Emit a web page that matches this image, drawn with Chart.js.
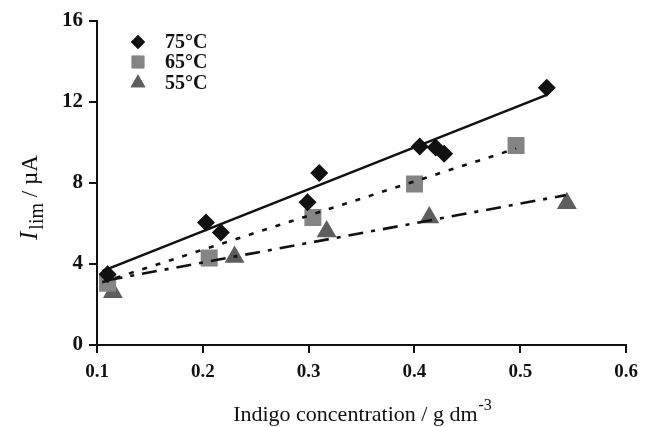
<!DOCTYPE html>
<html>
<head>
<meta charset="utf-8">
<script src="https://cdn.jsdelivr.net/npm/chart.js@4/dist/chart.umd.min.js"></script>
<style>
  html, body { margin: 0; padding: 0; background: #fff; }
  #wrap { width: 646px; height: 427px; position: relative; }
</style>
</head>
<body>
<div id="wrap"><canvas id="myChart"></canvas></div>
<script>
// Datos (concentración g/dm3, corriente µA)
var labels = ['75°C', '65°C', '55°C'];
var x75 = [0.11, 0.203, 0.217, 0.299, 0.31, 0.405, 0.42, 0.428, 0.525];
var y75 = [3.5, 6.05, 5.55, 7.05, 8.5, 9.8, 9.75, 9.45, 12.7];
var x65 = [0.11, 0.206, 0.304, 0.40, 0.496];
var y65 = [3.05, 4.3, 6.3, 7.95, 9.85];
var x55 = [0.115, 0.23, 0.317, 0.414, 0.544];
var y55 = [2.6, 4.35, 5.6, 6.3, 7.0];
// Rectas de ajuste (extremos)
var fit75x = [0.105, 0.525];
var fit75y = [3.65, 12.35];
var fit65x = [0.105, 0.496];
var fit65y = [3.1, 9.7];
var fit55x = [0.11, 0.543];
var fit55y = [3.2, 7.4];
var xTicks = [0.1, 0.2, 0.3, 0.4, 0.5, 0.6];
var yTicks = [0, 4, 8, 12, 16];

function pts(xs, ys) {
  return xs.map(function (x, i) { return { x: x, y: ys[i] }; });
}

var colores = ['#111111', '#848484', '#5e5e5e'];
var estilos = ['rectRot', 'rect', 'triangle'];
var radios = [9, 12, 11.5];
var radiosLeyenda = [7, 9, 8.5];

// Plugin para títulos con subíndice/superíndice y leyenda interior
var extras = {
  id: 'extras',
  afterDraw: function (chart) {
    var ctx = chart.ctx;
    ctx.save();
    ctx.fillStyle = '#111';
    // título eje Y
    ctx.translate(37, 192);
    ctx.rotate(-Math.PI / 2);
    ctx.textBaseline = 'alphabetic';
    ctx.textAlign = 'left';
    var x0 = -48;
    ctx.font = 'italic 25px "Liberation Serif"';
    ctx.fillText('I', x0, 0);
    x0 += ctx.measureText('I').width + 2;
    ctx.font = '20px "Liberation Serif"';
    ctx.fillText('lim', x0, 6);
    x0 += ctx.measureText('lim').width;
    ctx.font = '23px "Liberation Serif"';
    ctx.fillText(' / µA', x0, 0);
    ctx.restore();

    // título eje X
    ctx.save();
    ctx.fillStyle = '#111';
    ctx.textBaseline = 'alphabetic';
    ctx.textAlign = 'left';
    ctx.font = '22px "Liberation Serif"';
    var main = 'Indigo concentration / g dm';
    var w = ctx.measureText(main).width;
    ctx.font = '16px "Liberation Serif"';
    var ws = ctx.measureText('-3').width;
    var sx = 362 - (w + ws) / 2;
    ctx.font = '22px "Liberation Serif"';
    ctx.fillText(main, sx, 421);
    ctx.font = '16px "Liberation Serif"';
    ctx.fillText('-3', sx + w + 1, 410);
    ctx.restore();

    // leyenda
    ctx.save();
    var ly = [42, 62, 83];
    for (var i = 0; i < labels.length; i++) {
      ctx.fillStyle = colores[i];
      ctx.strokeStyle = colores[i];
      Chart.helpers.drawPoint(ctx, { pointStyle: estilos[i], radius: radiosLeyenda[i], borderWidth: 0 }, 138, ly[i]);
      ctx.fill();
      ctx.fillStyle = '#111';
      ctx.font = 'bold 20px "Liberation Serif"';
      ctx.textBaseline = 'middle';
      ctx.fillText(labels[i], 165, ly[i] + 1);
    }
    ctx.restore();
  }
};

var puntos = [pts(x75, y75), pts(x65, y65), pts(x55, y55)];
var datasets = [];
puntos.forEach(function (p, i) {
  datasets.push({
    label: labels[i],
    data: p,
    pointStyle: estilos[i],
    pointRadius: radios[i],
    pointBackgroundColor: colores[i],
    pointBorderColor: colores[i],
    pointBorderWidth: 0,
    showLine: false,
    order: 2
  });
});
var fits = [[fit75x, fit75y, []], [fit65x, fit65y, [5, 9]], [fit55x, fit55y, [15, 8, 4, 8]]];
fits.forEach(function (f) {
  datasets.push({
    data: pts(f[0], f[1]),
    showLine: true,
    borderColor: '#111',
    borderWidth: 2.6,
    borderDash: f[2],
    pointRadius: 0,
    fill: false,
    order: 1
  });
});

var ctx = document.getElementById('myChart').getContext('2d');
var myChart = new Chart(ctx, {
  type: 'scatter',
  data: { datasets: datasets },
  plugins: [extras],
  options: {
    responsive: true,
    maintainAspectRatio: false,
    animation: false,
    layout: { padding: { top: 21, right: 15, left: 0, bottom: 0 } },
    plugins: {
      legend: { display: false },
      tooltip: { enabled: false }
    },
    scales: {
      x: {
        type: 'linear',
        min: 0.1,
        max: 0.6,
        afterFit: function (s) { s.height = 82; },
        afterBuildTicks: function (s) { s.ticks = xTicks.map(function (v) { return { value: v }; }); },
        ticks: {
          callback: function (v) { return Number(v).toFixed(1); },
          color: '#111',
          font: { family: 'Liberation Serif', weight: 'bold', size: 19 },
          padding: 8,
          maxRotation: 0
        },
        grid: { drawOnChartArea: false, drawTicks: true, tickLength: 8, color: '#111', lineWidth: 2 },
        border: { display: true, color: '#111', width: 2 }
      },
      y: {
        min: 0,
        max: 16,
        afterFit: function (s) { s.width = 97; },
        afterBuildTicks: function (s) { s.ticks = yTicks.map(function (v) { return { value: v }; }); },
        ticks: {
          color: '#111',
          font: { family: 'Liberation Serif', weight: 'bold', size: 21 },
          padding: 6
        },
        grid: { drawOnChartArea: false, drawTicks: true, tickLength: 8, color: '#111', lineWidth: 2 },
        border: { display: true, color: '#111', width: 2 }
      }
    }
  }
});
</script>
</body>
</html>
